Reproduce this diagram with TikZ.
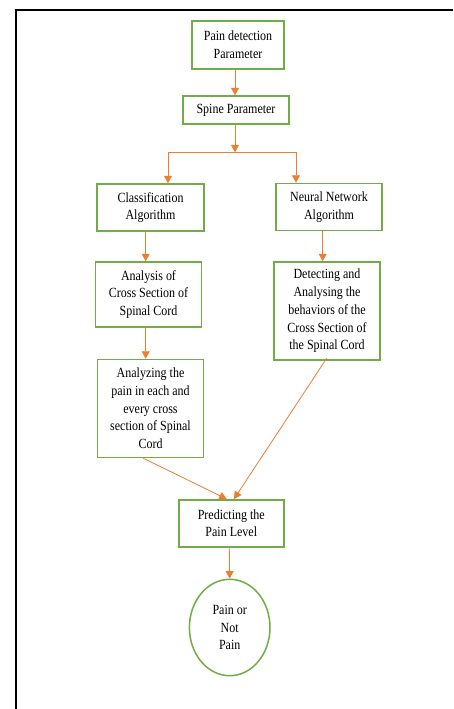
\documentclass[tikz,border=0pt]{standalone}
\usepackage{fontspec}
\setmainfont{Liberation Serif}[FakeStretch=0.857]
\usetikzlibrary{arrows.meta,shapes.geometric}
\definecolor{boxgreen}{HTML}{70AD47}
\definecolor{arrorange}{HTML}{ED7D31}
\begin{document}
\begin{tikzpicture}[x=1pt,y=-1pt,
  box/.style={draw=boxgreen,line width=1.5pt,fill=white,align=center,inner sep=0pt,
    font=\fontsize{14}{17.7}\selectfont},
  oval/.style={ellipse,draw=boxgreen,line width=1.5pt,align=center,inner sep=0pt,
    font=\fontsize{14}{17.7}\selectfont},
  arr/.style={draw=arrorange,line width=0.8pt,-{Triangle[width=8pt,length=7.5pt]}},
  ln/.style={draw=arrorange,line width=0.8pt}]
\useasboundingbox (0,0) rectangle (453,709);
\draw[line width=2pt] (453,10) -- (16,10) -- (16,709);

\node[box,minimum width=92pt,minimum height=48pt] (b1) at (238,45) {Pain detection\\Parameter};
\node[box,minimum width=106pt,minimum height=28pt] (b2) at (236,110) {Spine Parameter};
\node[box,minimum width=107pt,minimum height=47pt] (cls) at (150.5,207.5) {Classification\\Algorithm};
\node[box,minimum width=106pt,minimum height=47pt] (nn) at (329,207) {Neural Network\\Algorithm};
\node[box,minimum width=106pt,minimum height=65pt] (ana) at (148.5,294.5) {Analysis of\\Cross Section of\\Spinal Cord};
\node[box,minimum width=106pt,minimum height=98pt] (det) at (327,311) {Detecting and\\Analysing the\\behaviors of the\\Cross Section of\\the Spinal Cord};
\node[box,minimum width=106pt,minimum height=98pt] (anz) at (150.5,408.5) {Analyzing the\\pain in each and\\every cross\\section of Spinal\\Cord};
\node[box,minimum width=105pt,minimum height=47pt] (pred) at (231.3,523.3) {Predicting the\\Pain Level};
\node[oval,minimum width=80.6pt,minimum height=96.4pt] (res) at (229.7,627.5) {Pain or\\Not\\Pain};

\coordinate (split) at (235,152.3);
\coordinate (sl) at (168,152.3);
\coordinate (sr) at (296,152.3);

\draw[arr] ([xshift=-3pt]b1.south) -- ([xshift=-1pt]b2.north);
\draw[arr] ([xshift=-1pt]b2.south) -- (split);
\draw[ln] (sl) -- (sr);
\draw[arr] (sl) -- (sl |- cls.north);
\draw[arr] (sr) -- (sr |- nn.north);
\draw[arr] ([xshift=-4.8pt]cls.south) -- ([xshift=-4.8pt]cls.south |- ana.north);
\draw[arr] ([xshift=-6.3pt]nn.south) -- ([xshift=-6.3pt]nn.south |- det.north);
\draw[arr] ([xshift=-2.8pt]ana.south) -- ([xshift=-2.8pt]ana.south |- anz.north);
\draw[arr] ([xshift=-7.2pt]anz.south) -- ([xshift=-4.6pt]pred.north);
\draw[arr] ([xshift=-0.3pt,yshift=2.5pt]det.south) -- ([xshift=2.7pt]pred.north);
\draw[arr] ([xshift=-2pt]pred.south) -- (res.north);
\end{tikzpicture}
\end{document}
